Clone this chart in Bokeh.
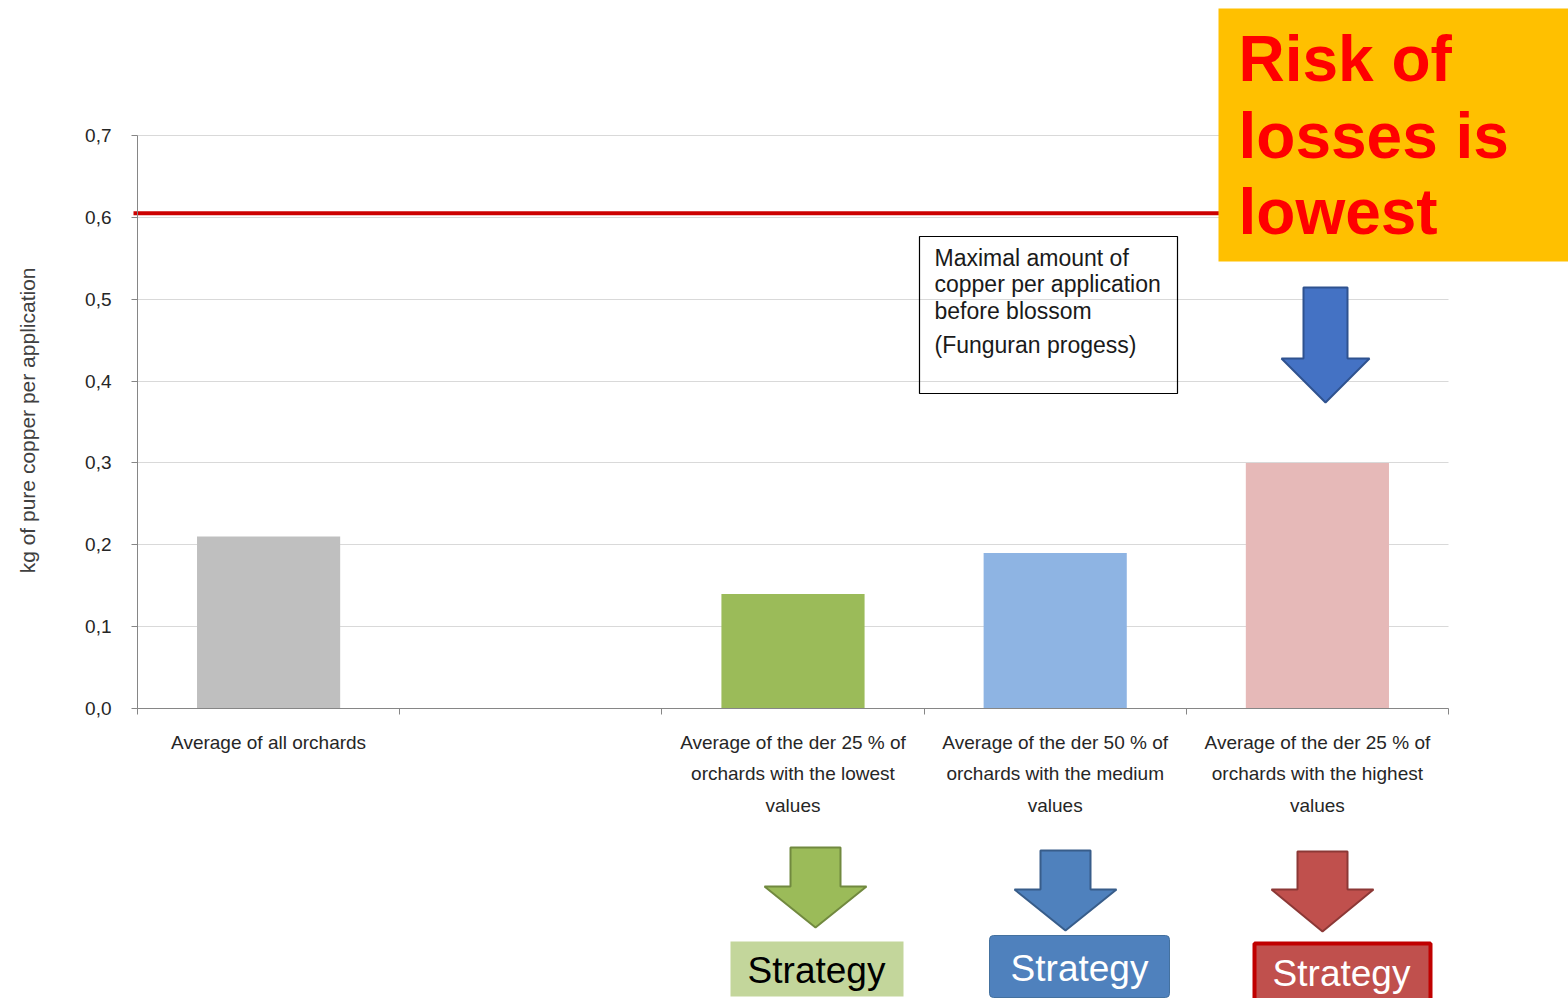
import math
from bokeh.plotting import figure
from bokeh.models import FixedTicker, BoxAnnotation, PolyAnnotation, Label, Range1d
from bokeh.embed import file_html
from bokeh.resources import INLINE

# ---------------- data ----------------
categories = [
    "Average of all orchards",
    "",
    "Average of the der 25 % of\norchards with the lowest\nvalues",
    "Average of the der 50 % of\norchards with the medium\nvalues",
    "Average of the der 25 % of\norchards with the highest\nvalues",
]
values = [0.21, None, 0.14, 0.19, 0.30]
bar_colors = ["#bfbfbf", None, "#9bbb59", "#8eb4e3", "#e6b9b8"]
y_ticks = [0.0, 0.1, 0.2, 0.3, 0.4, 0.5, 0.6, 0.7]
y_tick_labels = ["0,0", "0,1", "0,2", "0,3", "0,4", "0,5", "0,6", "0,7"]
limit_value = 0.605
limit_note = ["Maximal amount of", "copper per application", "before blossom", "(Funguran progess)"]
risk_lines = ["Risk of", "losses is", "lowest"]
strategy_label = "Strategy"
y_axis_label = "kg  of pure copper per application"

FONT = "Liberation Sans"

# ---------------- layout geometry ----------------
W, H = 1568, 998
CH_L, CH_T, CH_W, CH_H = 137, 135, 1311, 573   # chart area inside the page
N = len(categories)
YMAX = 0.7


def dx(px):
    return (px - CH_L) / CH_W * N


def dy(py):
    return (CH_T + CH_H - py) / CH_H * YMAX


p = figure(
    frame_width=W, frame_height=H, min_border=0,
    x_range=Range1d(dx(0), dx(W)), y_range=Range1d(dy(H), dy(0)),
    output_backend="svg", toolbar_location=None, tools="",
)
p.outline_line_color = None
p.background_fill_color = "white"
p.border_fill_color = "white"

# grid
p.xgrid.visible = False
p.ygrid.ticker = FixedTicker(ticks=y_ticks)
p.ygrid.grid_line_color = "#d9d9d9"
p.ygrid.grid_line_width = 1
try:
    p.ygrid.cross_bounds = (0, N)
except AttributeError:
    p.ygrid.visible = False
    p.segment(x0=[0] * len(y_ticks), x1=[N] * len(y_ticks), y0=y_ticks, y1=y_ticks,
              line_color="#d9d9d9", line_width=1)

# y axis
p.yaxis.fixed_location = 0
p.yaxis.bounds = (0, YMAX)
p.yaxis.ticker = FixedTicker(ticks=y_ticks)
p.yaxis.major_label_overrides = {t: l for t, l in zip(y_ticks, y_tick_labels)}
p.yaxis.minor_tick_line_color = None
p.yaxis.major_tick_in = 0
p.yaxis.major_tick_out = 6
p.yaxis.axis_line_color = "#868686"
p.yaxis.major_tick_line_color = "#868686"
p.yaxis.major_label_text_font = FONT
p.yaxis.major_label_text_font_size = "19px"
p.yaxis.major_label_text_color = "#262626"
p.yaxis.major_label_standoff = 20

# x axis: labels centred in slots, ticks at slot boundaries (minor ticks)
centers = [i + 0.5 for i, c in enumerate(categories) if c]
p.xaxis.fixed_location = 0
p.xaxis.bounds = (0, N)
p.xaxis.ticker = FixedTicker(ticks=centers, minor_ticks=list(range(N + 1)))
p.xaxis.major_label_overrides = {i + 0.5: c for i, c in enumerate(categories) if c}
p.xaxis.major_tick_in = 0
p.xaxis.major_tick_out = 0
p.xaxis.minor_tick_in = 0
p.xaxis.minor_tick_out = 6
p.xaxis.axis_line_color = "#868686"
p.xaxis.minor_tick_line_color = "#868686"
p.xaxis.major_label_text_font = FONT
p.xaxis.major_label_text_font_size = "19px"
p.xaxis.major_label_text_color = "#262626"
p.xaxis.major_label_text_line_height = 1.5
p.xaxis.major_label_standoff = 17

# y axis title
p.add_layout(Label(x=dx(27), y=dy(417), text=y_axis_label, angle=math.pi / 2,
                   text_font=FONT, text_font_size="21px", text_color="#404040",
                   text_align="center", text_baseline="middle"))

# bars
bx = [i + 0.5 for i, v in enumerate(values) if v is not None]
btop = [v for v in values if v is not None]
bcol = [c for v, c in zip(values, bar_colors) if v is not None]
p.vbar(x=bx, top=btop, bottom=0, width=0.546, fill_color=bcol, line_color=None)

# limit line
p.line(x=[dx(133), N], y=[limit_value, limit_value], line_color="#cc0000", line_width=4)

# note box
p.add_layout(BoxAnnotation(left=dx(919), right=dx(1177), top=dy(236), bottom=dy(393),
                           fill_alpha=0, line_color="black", line_alpha=1, line_width=1.2))
for txt, py in zip(limit_note, [257, 283, 310, 344]):
    p.add_layout(Label(x=dx(934), y=dy(py), text=txt, text_font=FONT, text_font_size="23px",
                       text_color="#1a1a1a", text_baseline="middle", text_align="left"))

# risk box
p.add_layout(BoxAnnotation(left=dx(1218), right=dx(W), top=dy(8), bottom=dy(261),
                           fill_color="#ffc000", fill_alpha=1, line_color=None))
for txt, py in zip(risk_lines, [58, 135, 211]):
    p.add_layout(Label(x=dx(1238), y=dy(py), text=txt, text_font=FONT, text_font_size="64px",
                       text_font_style="bold", text_color="#ff0000",
                       text_baseline="alphabetic", text_align="left"))


def arrow(cx, body_half, head_half, top, shoulder, tip, fill, line):
    xs = [cx - body_half, cx + body_half, cx + body_half, cx + head_half, cx,
          cx - head_half, cx - body_half]
    ys = [top, top, shoulder, shoulder, tip, shoulder, shoulder]
    p.add_layout(PolyAnnotation(xs=[dx(x) for x in xs], ys=[dy(y) for y in ys],
                                fill_color=fill, fill_alpha=1, line_color=line,
                                line_alpha=1, line_width=2))


arrow(1325, 22, 44, 287, 358, 402, "#4472c4", "#2f528f")
arrow(815, 25, 51, 847, 886, 927, "#9bbb59", "#71893f")
arrow(1065, 25, 51, 850, 889, 930, "#4f81bd", "#385d8a")
arrow(1322, 25, 51, 851, 889, 931, "#c0504d", "#8c3836")

# strategy boxes
p.add_layout(BoxAnnotation(left=dx(730), right=dx(903), top=dy(941), bottom=dy(996),
                           fill_color="#c3d69b", fill_alpha=1, line_color=None))
p.add_layout(BoxAnnotation(left=dx(989), right=dx(1169), top=dy(935), bottom=dy(997),
                           fill_color="#4f81bd", fill_alpha=1, line_color="#44719f",
                           line_alpha=1, line_width=1, border_radius=4))
p.add_layout(BoxAnnotation(left=dx(1254), right=dx(1430), top=dy(943), bottom=dy(1000),
                           fill_color="#c0504d", fill_alpha=1, line_color="#c00000",
                           line_alpha=1, line_width=4))
for cx, cy, col in [(816, 970, "black"), (1079, 968, "white"), (1341, 973, "white")]:
    p.add_layout(Label(x=dx(cx), y=dy(cy), text=strategy_label, text_font=FONT,
                       text_font_size="37px", text_color=col,
                       text_baseline="middle", text_align="center"))

open("out.html", "w").write(file_html(p, INLINE))
